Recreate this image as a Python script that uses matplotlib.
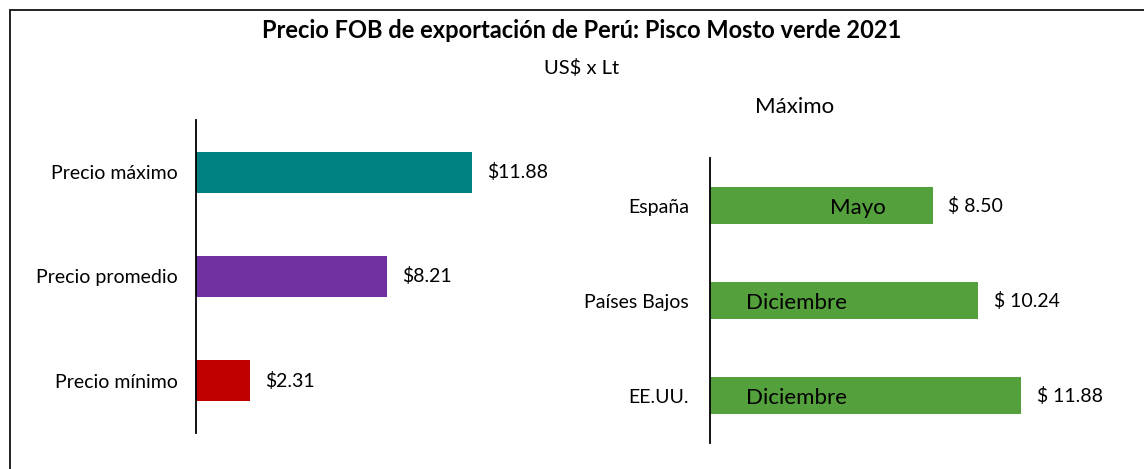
import matplotlib
matplotlib.use("Agg")
import matplotlib.pyplot as plt
from matplotlib.patches import Rectangle

plt.rcParams['font.family'] = ['Lato', 'DejaVu Sans']

# left panel: summary prices
precio_labels = ['Precio máximo', 'Precio promedio', 'Precio mínimo']
precio_values = [11.88, 8.21, 2.31]
precio_colors = ['#008080', '#7030A0', '#C00000']

# right panel: max price by country
paises = ['España', 'Países Bajos', 'EE.UU.']
paises_values = [8.50, 10.24, 11.88]
paises_meses = ['Mayo', 'Diciembre', 'Diciembre']

W, H = 1144, 469
fig = plt.figure(figsize=(W / 100, H / 100), dpi=100)

# outer frame (cut off at right and bottom like the original)
fig.patches.append(Rectangle((10 / W, -0.05), 1.2, 1 - 10 / H + 0.05,
                             transform=fig.transFigure, fill=False,
                             edgecolor='#222222', linewidth=1.4))

fig.text(582 / W, 1 - 30 / H, 'Precio FOB de exportación de Perú: Pisco Mosto verde 2021',
         ha='center', va='center', fontsize=17, fontweight='bold')
fig.text(582 / W, 1 - 68 / H, 'US$ x Lt', ha='center', va='center', fontsize=14.5)
fig.text(795 / W, 1 - 107 / H, 'Máximo', ha='center', va='center', fontsize=16)


def style_axis(ax, pad):
    for s in ['top', 'right', 'bottom']:
        ax.spines[s].set_visible(False)
    ax.spines['left'].set_linewidth(1.3)
    ax.spines['left'].set_color('black')
    ax.set_xticks([])
    ax.tick_params(axis='y', length=0, pad=pad, labelsize=14)


# left panel
ax1 = fig.add_axes([196 / W, (H - 433) / H, 302 / W, 313 / H])
ax1.barh(range(3), precio_values, height=0.39, color=precio_colors)
ax1.set_xlim(0, 13)
ax1.set_ylim(2.5, -0.5)
ax1.set_yticks(range(3))
ax1.set_yticklabels(precio_labels)
style_axis(ax1, 13)
for i, v in enumerate(precio_values):
    ax1.annotate(f'${v:.2f}', (v, i), xytext=(11, 0), textcoords='offset points',
                 va='center', ha='left', fontsize=14)

# right panel
ax2 = fig.add_axes([710 / W, (H - 443) / H, 340.6 / W, 285 / H])
ax2.barh(range(3), paises_values, height=0.39, color='#54A03C')
ax2.set_xlim(0, 13)
ax2.set_ylim(2.5, -0.5)
ax2.set_yticks(range(3))
ax2.set_yticklabels(paises)
style_axis(ax2, 15)
for i, v in enumerate(paises_values):
    ax2.annotate(f'$ {v:.2f}', (v, i), xytext=(11, 0), textcoords='offset points',
                 va='center', ha='left', fontsize=14)
# month labels written inside the bars
mes_x = [5.65, 3.3, 3.3]
for i, m in enumerate(paises_meses):
    ax2.text(mes_x[i], i + 0.03, m, ha='center', va='center', fontsize=16)

fig.savefig('out.png', dpi=100)
